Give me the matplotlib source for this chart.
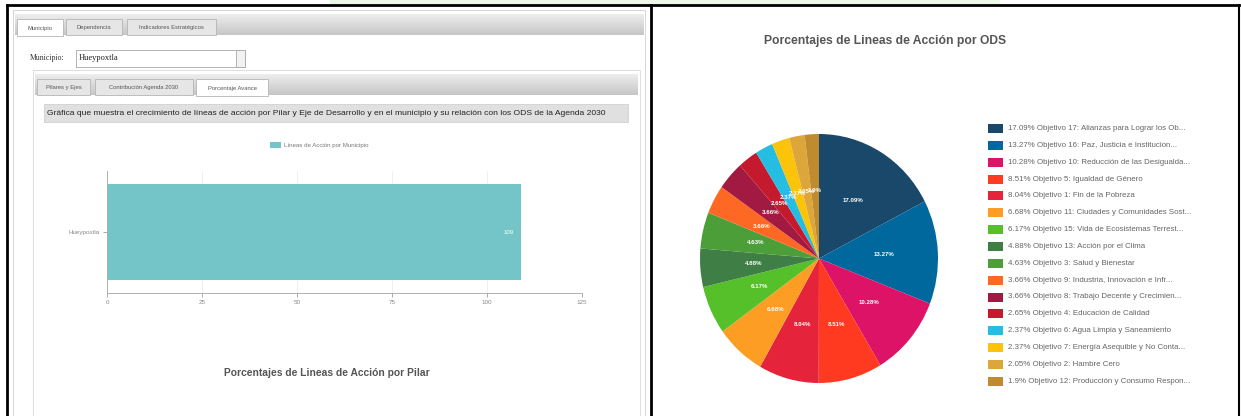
import matplotlib
matplotlib.use("Agg")
import numpy as np
import matplotlib.pyplot as plt
from matplotlib.patches import Rectangle
from matplotlib.colors import LinearSegmentedColormap

plt.rcParams['font.family'] = ['Liberation Sans', 'DejaVu Sans']

# datos de la grafica de barras (lineas de accion por municipio)
municipios = ['Hueypoxtla']
lineas_accion = [109]
bar_ticks = [0, 25, 50, 75, 100, 125]

# datos del pie (porcentaje de lineas de accion por ODS)
ods_pct = [17.09, 13.27, 10.28, 8.51, 8.04, 6.68, 6.17, 4.88, 4.63, 3.66, 3.66, 2.65, 2.37, 2.37, 2.05, 1.9]
ods_nombres = [
    'Objetivo 17: Alianzas para Lograr los Ob...',
    'Objetivo 16: Paz, Justicia e Institucion...',
    'Objetivo 10: Reducción de las Desigualda...',
    'Objetivo 5: Igualdad de Género',
    'Objetivo 1: Fin de la Pobreza',
    'Objetivo 11: Ciudades y Comunidades Sost...',
    'Objetivo 15: Vida de Ecosistemas Terrest...',
    'Objetivo 13: Acción por el Clima',
    'Objetivo 3: Salud y Bienestar',
    'Objetivo 9: Industria, Innovación e Infr...',
    'Objetivo 8: Trabajo Decente y Crecimien...',
    'Objetivo 4: Educación de Calidad',
    'Objetivo 6: Agua Limpia y Saneamiento',
    'Objetivo 7: Energía Asequible y No Conta...',
    'Objetivo 2: Hambre Cero',
    'Objetivo 12: Producción y Consumo Respon...',
]
ods_colores = ['#19486A', '#00689D', '#DD1367', '#FF3A21', '#E5243B', '#FD9D24', '#56C02B', '#3F7E44',
               '#4C9F38', '#FD6925', '#A21942', '#C5192D', '#26BDE2', '#FCC30B', '#DDA63A', '#BF8B2E']

W, H = 1241, 416
fig = plt.figure(figsize=(W / 100, H / 100), dpi=100)
fig.patch.set_facecolor('white')

# capa de fondo en pixeles (y hacia abajo)
bg = fig.add_axes([0, 0, 1, 1])
bg.set_xlim(0, W)
bg.set_ylim(H, 0)
bg.axis('off')

gris = LinearSegmentedColormap.from_list('gris', ['#eeeeee', '#c6c6c6'])
grad = np.linspace(0, 1, 32).reshape(-1, 1)


def px_axes(x0, y0, x1, y1):
    return fig.add_axes([x0 / W, 1 - y1 / H, (x1 - x0) / W, (y1 - y0) / H])


def rect(x0, y0, x1, y1, fc, ec='none', lw=0.6, z=1):
    bg.add_patch(Rectangle((x0, y0), x1 - x0, y1 - y0, facecolor=fc, edgecolor=ec, linewidth=lw, zorder=z))


def barra_gris(x0, y0, x1, y1, z=2):
    bg.imshow(grad, cmap=gris, extent=(x0, x1, y1, y0), aspect='auto', zorder=z)


def tab(x0, x1, y0, y1, texto, activo=False):
    rect(x0, y0, x1, y1, 'white' if activo else '#e6e6e6', ec='#b5b5b5', z=3)
    bg.text((x0 + x1) / 2, (y0 + y1) / 2 + 1, texto, fontsize=4.2, color='#555555',
            ha='center', va='center', zorder=4)


# --- panel izquierdo (captura del sistema) ---
rect(330, 0, 1000, 4, '#eef7e8')
rect(13, 10, 645, H + 5, 'white', ec='#d0d0d0', z=1)
barra_gris(15, 14, 644, 35)
tab(17, 63, 19, 36, 'Municipio', activo=True)
tab(66, 122, 19, 35, 'Dependencia')
tab(127, 216, 19, 35, 'Indicadores Estratégicos')

bg.text(30, 58, 'Municipio:', fontsize=5.6, color='#333333', va='center', zorder=4,
        family='Liberation Serif')
rect(76, 50, 245, 67, 'white', ec='#a8a8a8', z=3)
rect(236, 50, 245, 67, '#f2f2f2', ec='#a8a8a8', z=3)
bg.text(79, 58, 'Hueypoxtla', fontsize=6, color='#222222', va='center', zorder=4,
        family='Liberation Serif')

rect(33, 70, 640, H + 5, 'white', ec='#d8d8d8', z=2)
barra_gris(35, 74, 638, 95)
tab(37, 90, 79, 95, 'Pilares y Ejes')
tab(95, 193, 79, 95, 'Contribución Agenda 2030')
tab(196, 268, 79, 96, 'Porcentaje Avance', activo=True)

rect(44, 104, 628, 122, '#e0e0e0', ec='#d0d0d0', z=3)
bg.text(47, 113.5, 'Gráfica que muestra el crecimiento de líneas de acción por Pilar y Eje de Desarrollo y en el '
        'municipio y su relación con los ODS de la Agenda 2030',
        fontsize=6.1, color='#222222', va='center', zorder=4)

# leyenda de la barra
rect(270, 142, 281, 148, '#74C5C7', z=3)
bg.text(284, 145, 'Líneas de Acción por Municipio', fontsize=4.4, color='#777777', va='center', zorder=4)

bg.text(327, 373, 'Porcentajes de Lineas de Acción por Pilar', fontsize=7.4, fontweight='bold',
        color='#555555', ha='center', va='center', zorder=4)

# bordes negros
bg.plot([7, 7], [5, H], color='black', lw=2, zorder=10)
bg.plot([7, W - 2], [5, 5], color='black', lw=2, zorder=10)
bg.plot([651, 651], [5, H], color='black', lw=2, zorder=10)
bg.plot([W - 2, W - 2], [5, H], color='black', lw=1.5, zorder=10)

# --- grafica de barras horizontal ---
ax_bar = px_axes(107, 171, 582, 293)
ax_bar.set_facecolor('none')
ax_bar.barh(range(len(municipios)), lineas_accion, height=0.78, color='#74C5C7', zorder=2)
for i, v in enumerate(lineas_accion):
    ax_bar.text(v - 2, i, str(v), color='white', fontsize=4.4, ha='right', va='center', zorder=3)
ax_bar.set_xlim(bar_ticks[0], bar_ticks[-1])
ax_bar.set_ylim(-0.5, 0.5)
ax_bar.set_xticks(bar_ticks)
ax_bar.set_yticks(range(len(municipios)))
ax_bar.set_yticklabels(municipios)
ax_bar.grid(axis='x', color='#ececec', lw=0.6, zorder=0)
ax_bar.tick_params(labelsize=4.5, colors='#888888', length=3, width=0.5, pad=2)
for s in ['top', 'right']:
    ax_bar.spines[s].set_visible(False)
for s in ['left', 'bottom']:
    ax_bar.spines[s].set_color('#b0b0b0')
    ax_bar.spines[s].set_linewidth(0.7)

# --- panel derecho: pie por ODS ---
bg.text(885, 41, 'Porcentajes de Lineas de Acción por ODS', fontsize=8.7, fontweight='bold',
        color='#555555', ha='center', va='center', zorder=4)

ax_pie = px_axes(700, 134, 938, 383)
ax_pie.pie(ods_pct, colors=ods_colores, startangle=90, counterclock=False,
           labels=[f'{v:g}%' for v in ods_pct], labeldistance=0.55,
           textprops=dict(color='white', fontsize=4.4, fontweight='bold', ha='center', va='center'),
           wedgeprops=dict(linewidth=0))
ax_pie.set_aspect('auto')
ax_pie.set_xlim(-1, 1)
ax_pie.set_ylim(-1, 1)

# leyenda del pie
y0, dy = 128.5, 16.85
for i, (v, nombre, c) in enumerate(zip(ods_pct, ods_nombres, ods_colores)):
    y = y0 + i * dy
    rect(988, y - 4.5, 1003, y + 4.5, c, z=3)
    bg.text(1008, y, f'{v:g}% {nombre}', fontsize=5.7, color='#666666', va='center', zorder=4)

fig.savefig('out.png', dpi=100)
